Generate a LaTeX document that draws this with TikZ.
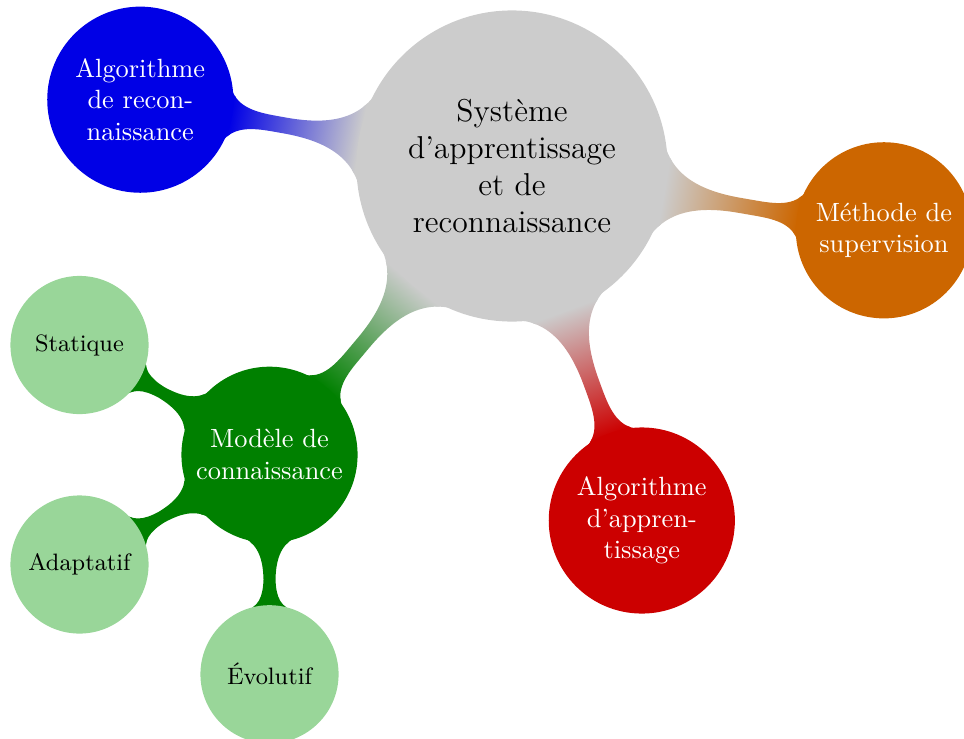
\documentclass[tikz,border=0pt]{standalone}
\usetikzlibrary{mindmap,backgrounds}
\definecolor{cgray}{RGB}{204,204,204}
\definecolor{cblue}{RGB}{0,0,230}
\definecolor{corange}{RGB}{204,102,0}
\definecolor{cred}{RGB}{204,0,0}
\definecolor{cgreen}{RGB}{0,128,0}
\definecolor{clgreen}{RGB}{153,214,153}
\tikzset{
  rootc/.style={concept, concept color=cgray, text=black, font=\large,
    minimum size=4.107cm, text width=3.6cm, inner sep=0pt, align=center},
  lvlone/.style={concept, text=white, font=\normalsize,
    minimum size=2.307cm, text width=2.1cm, inner sep=0pt, align=center},
  lvlonebig/.style={lvlone, minimum size=2.44cm},
  lvltwo/.style={concept, concept color=cgreen, fill=clgreen, draw=clgreen, text=black, font=\small,
    minimum size=1.8cm, text width=1.5cm, inner sep=0pt, align=center},
}
\begin{document}
\begin{tikzpicture}[mindmap, x=0.0133333cm, y=-0.0133333cm]
\useasboundingbox (0,0) rectangle (964,738);
\node[rootc] (root) at (512,166) {Système\\d’apprentissage\\et de\\reconnaissance};
\node[lvlonebig, concept color=cblue] (reco) at (140.3,99.7) {Algorithme\\de recon-\\naissance};
\node[lvlone, concept color=corange] (super) at (883.9,230.3) {Méthode de\\supervision};
\node[lvlonebig, concept color=cred] (appr) at (641.8,520.5) {Algorithme\\d’appren-\\tissage};
\node[lvlone, concept color=cgreen] (model) at (269.5,454.75) {Modèle de\\connaissance};
\node[lvltwo] (stat) at (79.5,345) {Statique};
\node[lvltwo] (adapt) at (79.5,564.5) {Adaptatif};
\node[lvltwo] (evol) at (269.5,674.25) {Évolutif};
\begin{scope}[on background layer]
\path (root) to[circle connection bar switch color=from (cgray) to (cblue)] (reco);
\path (root) to[circle connection bar switch color=from (cgray) to (corange)] (super);
\path (root) to[circle connection bar switch color=from (cgray) to (cred)] (appr);
\path (root) to[circle connection bar switch color=from (cgray) to (cgreen)] (model);
\path (model) to[circle connection bar switch color=from (cgreen) to (cgreen)] (stat);
\path (model) to[circle connection bar switch color=from (cgreen) to (cgreen)] (adapt);
\path (model) to[circle connection bar switch color=from (cgreen) to (cgreen)] (evol);
\end{scope}
\end{tikzpicture}
\end{document}
